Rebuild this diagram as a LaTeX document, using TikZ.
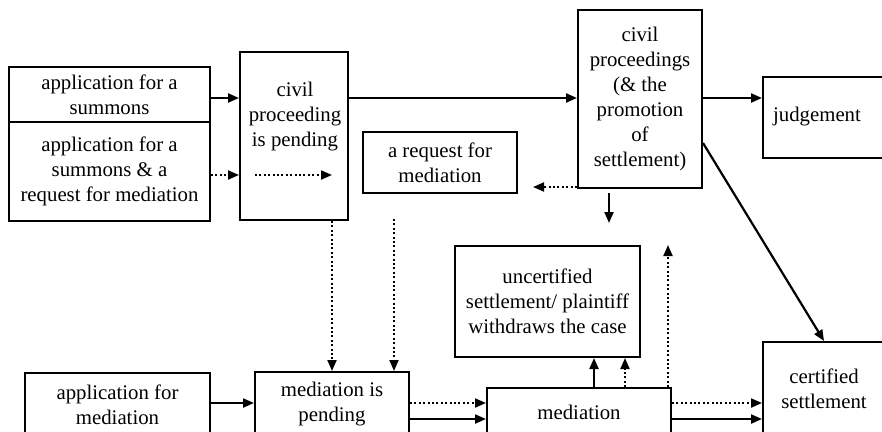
\documentclass[tikz,border=0pt]{standalone}
\usepackage{fontspec}
\setmainfont{Liberation Serif}
\newfontfamily\tnr{Liberation Serif}
\usetikzlibrary{arrows.meta}
\begin{document}
\begin{tikzpicture}[x=1pt,y=-1pt,
  box/.style={draw, line width=2pt, rectangle, inner sep=0pt, align=center,
    font=\tnr\fontsize{20.8}{25}\selectfont},
  txt/.style={inner sep=0pt, align=center, font=\tnr\fontsize{20.8}{25}\selectfont},
  arr/.style={line width=2.2pt, -{Triangle[length=11pt,width=9pt]}},
  dotarr/.style={line width=2pt, dash pattern=on 2pt off 2.4pt, -{Triangle[length=11pt,width=9pt]}},
]
\clip (0,0) rectangle (882,431);
\fill[white] (0,0) rectangle (882,431);

% boxes
\node[box, minimum width=201, minimum height=55] (summons) at (109.5,94.5) {application for a\\summons};
\node[box, minimum width=201, minimum height=99] (appsr) at (109.5,171.5) {application for a\\summons \& a\\request for mediation};
\node[box, minimum width=108, minimum height=168] (cpp) at (294,136) {};
\node[txt] (cppt) at (295,117) {civil\\proceeding\\is pending};
\node[box, minimum width=124, minimum height=178] (cp) at (640,99) {civil\\proceedings\\(\& the\\promotion\\of\\settlement)};
\node[box, minimum width=122, minimum height=81] (judg) at (824,117.5) {};
\node[txt] (judgt) at (817,117) {judgement};
\node[box, minimum width=154, minimum height=61] (reqmed) at (440,162.5) {a request for\\mediation};
\node[box, minimum width=185, minimum height=111] (uncert) at (547.5,301.5) {uncertified\\settlement/ plaintiff\\withdraws the case};
\node[box, minimum width=122, minimum height=94] (cert) at (824,389) {certified\\settlement};
\node[box, minimum width=184, minimum height=48] (med) at (579,412) {mediation};
\node[box, minimum width=154, minimum height=64] (medpend) at (332,404) {mediation is\\pending};
\node[box, minimum width=185, minimum height=63] (appmed) at (117.5,404.5) {application for\\mediation};

% helper coordinates
\coordinate (r98) at (0,98);
\coordinate (r175) at (0,175);
\coordinate (r143) at (0,143);
\coordinate (r187) at (0,187);
\coordinate (r403) at (0,403);
\coordinate (r419) at (0,419);
\coordinate (inA) at (255,175);
\coordinate (inB) at (332,175);
\coordinate (lftend) at (533,187);
\coordinate (dnA) at (609,193);
\coordinate (dnB) at (609,223);
\coordinate (dotTop) at (394,219);
\coordinate (upEnd) at (668,245);
\coordinate (c332) at (332,0);
\coordinate (c594) at (594,0);
\coordinate (c625) at (625,0);
\coordinate (c668) at (668,0);

% connectors
\draw[arr] (summons.east |- r98) -- (cpp.west |- r98);
\draw[dotarr] (appsr.east |- r175) -- (cpp.west |- r175);
\draw[dotarr] (inA) -- (inB);
\draw[arr] (cpp.east |- r98) -- (cp.west |- r98);
\draw[arr] (cp.east |- r98) -- (judg.west |- r98);
\draw[dotarr] (cp.west |- r187) -- (lftend);
\draw[arr] (dnA) -- (dnB);
\draw[arr] (cp.east |- r143) -- (cert.north);
\draw[dotarr] (cpp.south -| c332) -- (medpend.north -| c332);
\draw[dotarr] (dotTop) -- (medpend.north -| dotTop);
\draw[arr] (appmed.east |- r403) -- (medpend.west |- r403);
\draw[dotarr] (medpend.east |- r403) -- (med.west |- r403);
\draw[arr] (medpend.east |- r419) -- (med.west |- r419);
\draw[arr] (med.north -| c594) -- (uncert.south -| c594);
\draw[dotarr] (med.north -| c625) -- (uncert.south -| c625);
\draw[dotarr] (med.north -| c668) -- (upEnd);
\draw[dotarr] (med.east |- r403) -- (cert.west |- r403);
\draw[arr] (med.east |- r419) -- (cert.west |- r419);
\end{tikzpicture}
\end{document}
